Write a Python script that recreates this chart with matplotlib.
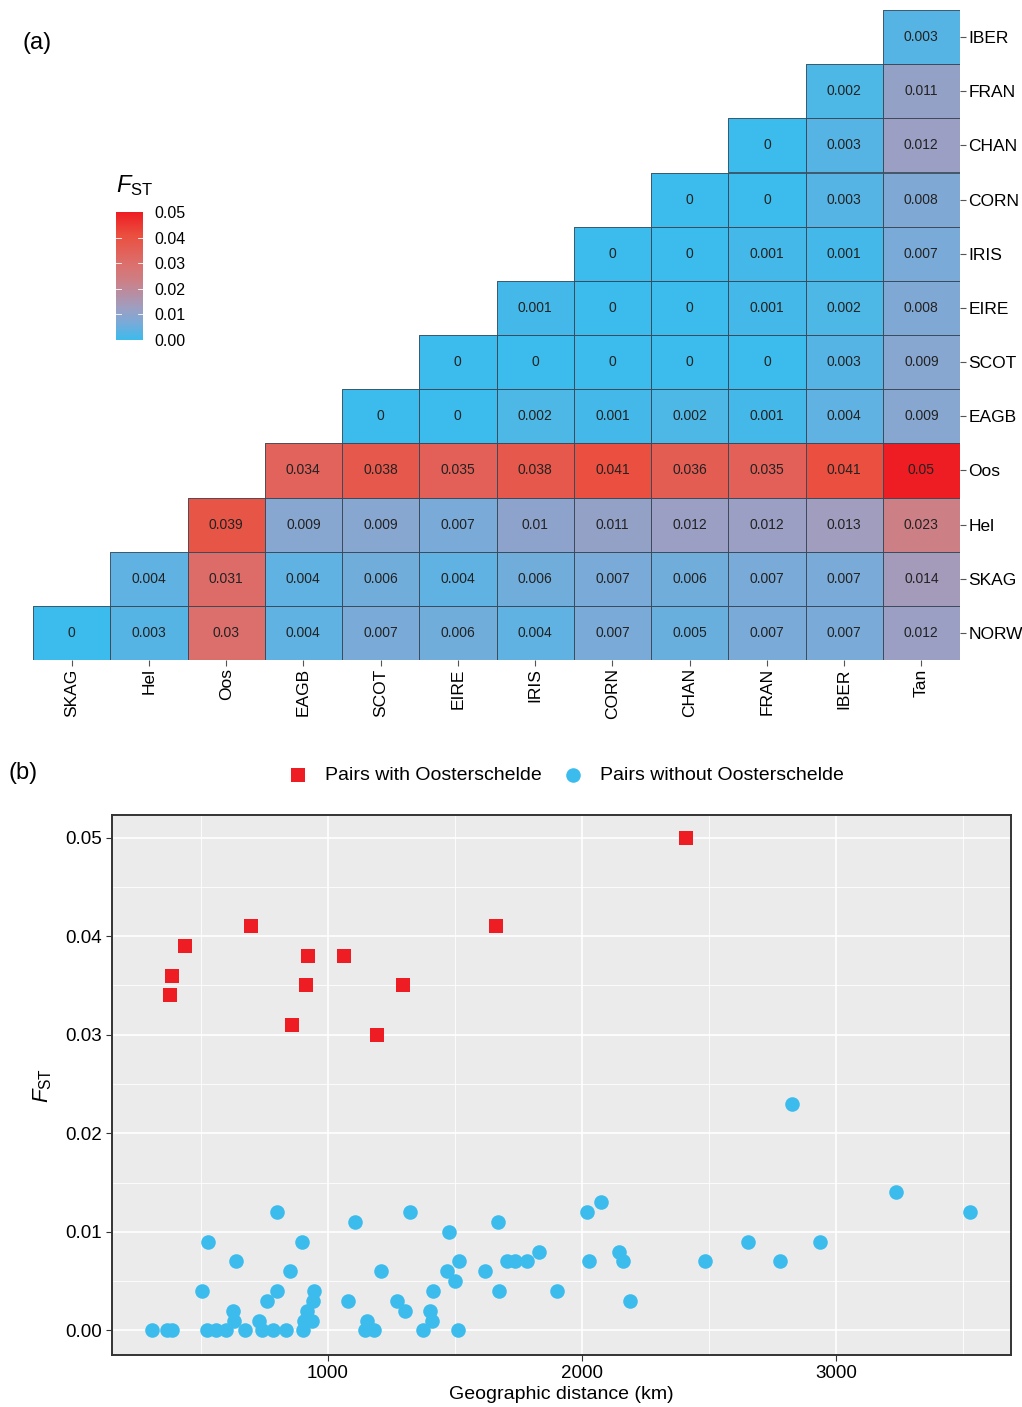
import numpy as np
import matplotlib
matplotlib.use('Agg')
import matplotlib.pyplot as plt
from matplotlib.colors import LinearSegmentedColormap
from matplotlib.patches import Rectangle

plt.rcParams['font.family'] = ['Liberation Sans', 'DejaVu Sans']
plt.rcParams['mathtext.fontset'] = 'custom'
plt.rcParams['mathtext.rm'] = 'Liberation Sans'
plt.rcParams['mathtext.it'] = 'Liberation Sans:italic'

# (a) pairwise FST, rows top to bottom, values fill the right end of each row
cols = ['SKAG', 'Hel', 'Oos', 'EAGB', 'SCOT', 'EIRE', 'IRIS', 'CORN', 'CHAN', 'FRAN', 'IBER', 'Tan']
rows = ['IBER', 'FRAN', 'CHAN', 'CORN', 'IRIS', 'EIRE', 'SCOT', 'EAGB', 'Oos', 'Hel', 'SKAG', 'NORW']
r_iber = [0.003]
r_fran = [0.002, 0.011]
r_chan = [0, 0.003, 0.012]
r_corn = [0, 0, 0.003, 0.008]
r_iris = [0, 0, 0.001, 0.001, 0.007]
r_eire = [0.001, 0, 0, 0.001, 0.002, 0.008]
r_scot = [0, 0, 0, 0, 0, 0.003, 0.009]
r_eagb = [0, 0, 0.002, 0.001, 0.002, 0.001, 0.004, 0.009]
r_oos = [0.034, 0.038, 0.035, 0.038, 0.041, 0.036, 0.035, 0.041, 0.05]
r_hel = [0.039, 0.009, 0.009, 0.007, 0.01, 0.011, 0.012, 0.012, 0.013, 0.023]
r_skag = [0.004, 0.031, 0.004, 0.006, 0.004, 0.006, 0.007, 0.006, 0.007, 0.007, 0.014]
r_norw = [0, 0.003, 0.03, 0.004, 0.007, 0.006, 0.004, 0.007, 0.005, 0.007, 0.007, 0.012]
row_vals = [r_iber, r_fran, r_chan, r_corn, r_iris, r_eire, r_scot, r_eagb, r_oos, r_hel, r_skag, r_norw]

# (b) FST vs geographic distance
dist_oos = [378, 385, 437, 696, 920, 913, 858, 1062, 1294, 1192, 1661, 2409]
fst_oos = [0.034, 0.036, 0.039, 0.041, 0.038, 0.035, 0.031, 0.038, 0.035, 0.030, 0.041, 0.050]
dist_other = [306, 367, 385, 525, 559, 597, 673, 739, 785, 835, 903, 526, 638, 504, 627, 631,
              730, 759, 800, 798, 850, 896, 945, 942, 919, 907, 936, 1107, 1210, 1080, 1152, 1146,
              1181, 1270, 1303, 1323, 1476, 1668, 1467, 1517, 1501, 1619, 1704, 1736, 1782, 1832,
              1415, 1672, 1903, 1402, 1411, 1375, 1511, 2021, 2076, 2029, 2147, 2161, 2189, 2826,
              3235, 3528, 2652, 2938, 2485, 2778]
fst_other = [0, 0, 0, 0, 0, 0, 0, 0, 0, 0, 0, 0.009, 0.007, 0.004, 0.002, 0.001,
             0.001, 0.003, 0.004, 0.012, 0.006, 0.009, 0.004, 0.003, 0.002, 0.001, 0.001, 0.011, 0.006, 0.003, 0.001, 0,
             0, 0.003, 0.002, 0.012, 0.010, 0.011, 0.006, 0.007, 0.005, 0.006, 0.007, 0.007, 0.007, 0.008,
             0.004, 0.004, 0.004, 0.002, 0.001, 0, 0, 0.012, 0.013, 0.007, 0.008, 0.007, 0.003, 0.023,
             0.014, 0.012, 0.009, 0.009, 0.007, 0.007]

n = len(cols)
mat = np.full((n, n), np.nan)
for i, v in enumerate(row_vals):
    mat[i, n - len(v):] = v

cmap = LinearSegmentedColormap.from_list('fst', [
    (0.0, '#3bbcec'), (0.14, '#7baad8'), (0.26, '#a09dbf'), (0.46, '#cc8086'),
    (0.6, '#dc6f6c'), (0.82, '#ea4f3f'), (1.0, '#ee1d23')])

fig = plt.figure(figsize=(10.22, 14.07), dpi=100)

ax = fig.add_axes([33/1022, 1 - 660/1407, 927/1022, 650/1407])
mesh = ax.pcolormesh(np.arange(n + 1), np.arange(n + 1), np.ma.masked_invalid(mat), cmap=cmap,
                     vmin=0, vmax=0.05, linewidth=0)
for i in range(n):
    for j in range(n):
        if not np.isnan(mat[i, j]):
            ax.add_patch(Rectangle((j, i), 1, 1, fill=False, edgecolor='#3a4a5a', lw=0.6))
            ax.text(j + 0.5, i + 0.5, '{:g}'.format(mat[i, j]), ha='center', va='center',
                    fontsize=10, color='#222222')
ax.set_xlim(0, n)
ax.set_ylim(n, 0)
ax.set_xticks(np.arange(n) + 0.5)
ax.set_xticklabels(cols, rotation=90, fontsize=12.5)
ax.set_yticks(np.arange(n) + 0.5)
ax.set_yticklabels(rows, fontsize=12.5)
ax.yaxis.tick_right()
ax.tick_params(length=4, color='#555555', pad=2)
for s in ax.spines.values():
    s.set_visible(False)

cax = fig.add_axes([116/1022, 1 - 340/1407, 27/1022, 128/1407])
cb = plt.colorbar(mesh, cax=cax, ticks=[0, 0.01, 0.02, 0.03, 0.04, 0.05])
cb.outline.set_visible(False)
cb.ax.set_yticklabels(['0.00', '0.01', '0.02', '0.03', '0.04', '0.05'], fontsize=11.5)
cb.ax.tick_params(length=0, pad=8)
for t in [0.01, 0.02, 0.03, 0.04]:
    cax.plot([0, 0.2], [t, t], color='white', lw=0.6)
    cax.plot([0.8, 1], [t, t], color='white', lw=0.6)
fig.text(116/1022, 1 - 186/1407, r'$\mathit{F}_{\mathrm{ST}}$', fontsize=17, va='center')

fig.text(22/1022, 1 - 43/1407, '(a)', fontsize=17, va='center')
fig.text(8/1022, 1 - 773/1407, '(b)', fontsize=17, va='center')

# (b) scatter
bx = fig.add_axes([112/1022, 1 - 1355/1407, 899/1022, 540/1407])
bx.set_facecolor('#ebebeb')
bx.scatter(dist_other, fst_other, s=110, marker='o', color='#3bbcec', linewidths=0,
           label='Pairs without Oosterschelde', zorder=3)
bx.scatter(dist_oos, fst_oos, s=100, marker='s', color='#ee1d23', linewidths=0,
           label='Pairs with Oosterschelde', zorder=3)
bx.set_xlim(150, 3689)
bx.set_ylim(-0.0025, 0.0523)
bx.set_xticks([1000, 2000, 3000])
bx.set_xticks([500, 1500, 2500, 3500], minor=True)
bx.set_yticks([0, 0.01, 0.02, 0.03, 0.04, 0.05])
bx.set_yticklabels(['0.00', '0.01', '0.02', '0.03', '0.04', '0.05'])
bx.set_yticks(np.arange(0.005, 0.05, 0.01), minor=True)
bx.grid(which='major', color='white', lw=1.2)
bx.grid(which='minor', color='white', lw=0.6)
bx.set_axisbelow(True)
bx.tick_params(which='major', labelsize=13.5, length=4, color='#333333', pad=3)
bx.tick_params(which='minor', length=0)
for s in bx.spines.values():
    s.set_color('#333333')
    s.set_linewidth(1.4)
bx.set_xlabel('Geographic distance (km)', fontsize=14, labelpad=3)
bx.set_ylabel(r'$\mathit{F}_{\mathrm{ST}}$', fontsize=16, labelpad=8)
h, l = bx.get_legend_handles_labels()
leg = bx.legend(h[::-1], l[::-1], loc='lower center', bbox_to_anchor=(0.5, 1.0), ncol=2,
                frameon=False, fontsize=14, handletextpad=0.4, columnspacing=0.6,
                borderaxespad=1.2)

fig.savefig('out.png', dpi=100)
